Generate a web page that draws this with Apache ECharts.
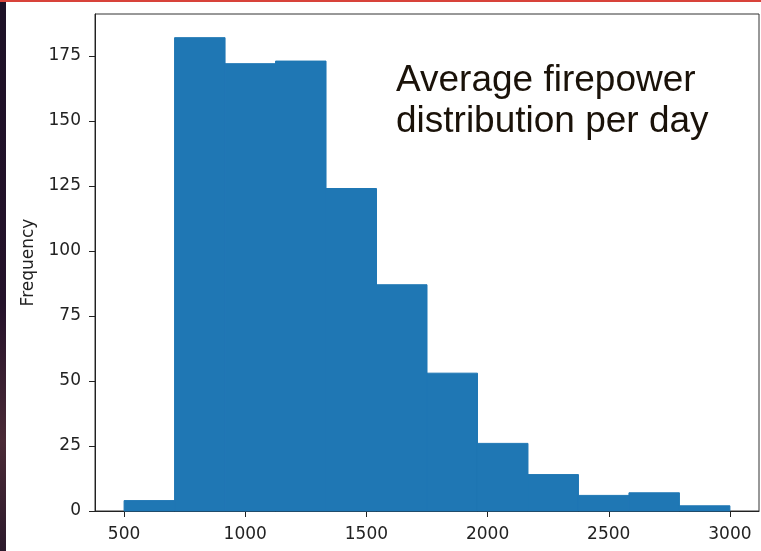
<!DOCTYPE html>
<html>
<head>
<meta charset="utf-8">
<script src="https://cdn.jsdelivr.net/npm/echarts@6/dist/echarts.min.js"></script>
<style>
html,body{margin:0;padding:0;background:#fff;}
#chart{width:761px;height:551px;}
</style>
</head>
<body>
<div id="chart"></div>
<script>
// Histogram bin edges (12 bins from 500 to 3000)
var binEdges = [500, 708.33, 916.67, 1125, 1333.33, 1541.67, 1750, 1958.33, 2166.67, 2375, 2583.33, 2791.67, 3000];
// Frequency per bin
var frequencies = [4, 182, 172, 173, 124, 87, 53, 26, 14, 6, 7, 2];
// Tick labels
var xTicks = [500, 1000, 1500, 2000, 2500, 3000];
var yTicks = [0, 25, 50, 75, 100, 125, 150, 175];
var titleLines = ['Average firepower', 'distribution per day'];

var barData = [];
for (var i = 0; i < frequencies.length; i++) {
  barData.push([binEdges[i], binEdges[i + 1], frequencies[i]]);
}

var chart = echarts.init(document.getElementById('chart'), null, {renderer: 'canvas'});
var labelFont = {fontFamily: 'DejaVu Sans', fontSize: 17, color: '#222'};

chart.setOption({
  animation: false,
  backgroundColor: '#ffffff',
  title: {
    text: titleLines.join('\n'),
    left: 396,
    top: 60,
    padding: 0,
    textStyle: {fontFamily: 'Liberation Sans', fontSize: 37, fontWeight: 'normal', color: '#1a1209', lineHeight: 41}
  },
  graphic: [
    {type: 'rect', left: 0, top: 0, shape: {width: 6, height: 551}, silent: true, z: 10,
     style: {fill: new echarts.graphic.LinearGradient(0, 0, 0, 1, [
       {offset: 0, color: '#1d1127'}, {offset: 0.55, color: '#24122a'},
       {offset: 0.8, color: '#4a2a36'}, {offset: 1, color: '#2c1a2c'}])}},
    {type: 'rect', left: 0, top: 0, shape: {width: 761, height: 2}, silent: true, z: 11,
     style: {fill: '#d8433a'}}
  ],
  grid: {left: 95, top: 14, width: 664, bottom: 40, show: true, borderColor: '#333', borderWidth: 1, backgroundColor: 'transparent'},
  xAxis: {
    type: 'value', min: 380, max: 3120,
    axisLine: {show: true, onZero: false, lineStyle: {color: '#222', width: 1}},
    axisTick: {show: true, length: 6, customValues: xTicks, lineStyle: {color: '#222'}},
    axisLabel: Object.assign({margin: 15, customValues: xTicks, formatter: function (v) { return String(v); }}, labelFont),
    splitLine: {show: false}
  },
  yAxis: {
    type: 'value', min: 0, max: 191.1,
    name: 'Frequency', nameLocation: 'middle', nameGap: 58, nameRotate: 90,
    nameTextStyle: {fontFamily: 'DejaVu Sans', fontSize: 17, color: '#222'},
    axisLine: {show: true, lineStyle: {color: '#222', width: 1}},
    axisTick: {show: true, length: 6, customValues: yTicks, lineStyle: {color: '#222'}},
    axisLabel: Object.assign({margin: 14, customValues: yTicks, formatter: function (v) { return String(v); }}, labelFont),
    splitLine: {show: false}
  },
  series: [{
    type: 'custom',
    data: barData,
    encode: {x: [0, 1], y: 2},
    renderItem: function (params, api) {
      var p0 = api.coord([api.value(0), api.value(2)]);
      var p1 = api.coord([api.value(1), 0]);
      return {type: 'rect', shape: {x: p0[0], y: p0[1], width: p1[0] - p0[0], height: p1[1] - p0[1]},
              style: {fill: '#1f77b4', stroke: '#1f77b4', lineWidth: 1}};
    }
  }]
});
</script>
</body>
</html>
